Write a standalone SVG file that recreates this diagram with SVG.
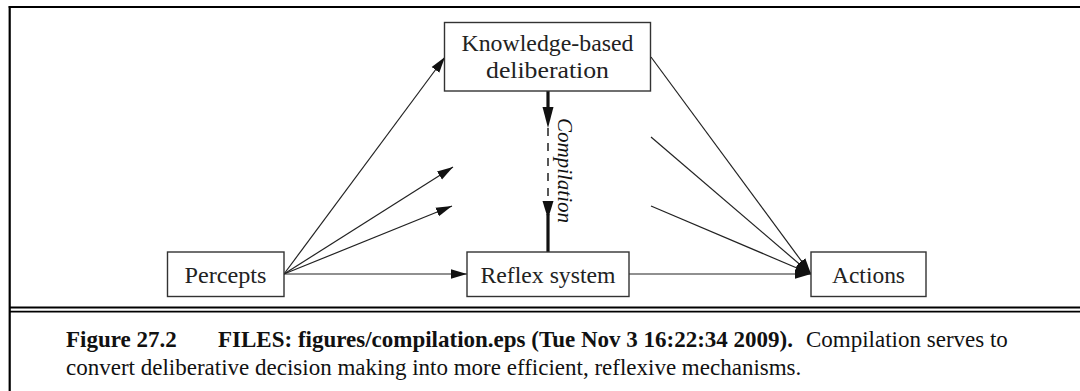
<svg xmlns="http://www.w3.org/2000/svg" width="1080" height="391" viewBox="0 0 1080 391">
<style>
.box{fill:#fff;stroke:#333;stroke-width:1.4}
.lbl{font-family:"Liberation Serif","Times New Roman",serif;font-size:24px;fill:#222;text-anchor:middle}
.ln{stroke:#222;stroke-width:1.2;fill:none}
.cap{font-family:"Liberation Serif","Times New Roman",serif;font-size:23px;fill:#111}
.b{font-weight:bold}
</style>
<defs>
<marker id="ah" markerUnits="userSpaceOnUse" markerWidth="18" markerHeight="12" refX="16" refY="6" orient="auto">
<path d="M0,1.3 L16,6 L0,10.7 Z" fill="#111"/>
</marker>
</defs>
<rect width="1080" height="391" fill="#fff"/>
<g id="frame" stroke="#000" fill="none">
<line x1="8.7" y1="7" x2="1080" y2="7" stroke-width="2.2"/>
<line x1="9.7" y1="6" x2="9.7" y2="391" stroke-width="2.2"/>
<line x1="9.7" y1="307.5" x2="1080" y2="307.5" stroke-width="1.8"/>
<line x1="9.7" y1="311.6" x2="1080" y2="311.6" stroke-width="1.8"/>
</g>
<g id="connectors">
<line class="ln" x1="284" y1="274" x2="445" y2="57" marker-end="url(#ah)"/>
<line class="ln" x1="284" y1="274" x2="453" y2="167" marker-end="url(#ah)"/>
<line class="ln" x1="284" y1="274" x2="452" y2="206" marker-end="url(#ah)"/>
<line class="ln" x1="284" y1="274" x2="467" y2="274" marker-end="url(#ah)"/>
<line class="ln" x1="651" y1="57" x2="811" y2="274" marker-end="url(#ah)"/>
<line class="ln" x1="651" y1="137" x2="811" y2="274" marker-end="url(#ah)"/>
<line class="ln" x1="651" y1="206" x2="811" y2="274" marker-end="url(#ah)"/>
<line class="ln" x1="629" y1="274" x2="811" y2="274" marker-end="url(#ah)"/>
<g id="compilation">
<line x1="548" y1="91" x2="548" y2="110" stroke="#111" stroke-width="3.2"/>
<path d="M542.5,107 L553.5,107 L548,128 Z" fill="#111"/>
<line x1="548" y1="128" x2="548" y2="204" stroke="#111" stroke-width="1.4" stroke-dasharray="8,7"/>
<path d="M542.5,201 L553.5,201 L548,219 Z" fill="#111"/>
<line x1="548" y1="214" x2="548" y2="252" stroke="#111" stroke-width="3.2"/>
<text class="cap" transform="translate(558,118) rotate(90)" style="font-style:italic;font-size:21px" textLength="105" lengthAdjust="spacingAndGlyphs">Compilation</text>
</g>
</g>
<g id="knowledge">
<rect class="box" x="444.5" y="22.5" width="206" height="68.5"/>
<text class="lbl" x="547.5" y="51" textLength="172" lengthAdjust="spacingAndGlyphs">Knowledge-based</text>
<text class="lbl" x="547.5" y="78" textLength="123" lengthAdjust="spacingAndGlyphs">deliberation</text>
</g>
<g id="percepts">
<rect class="box" x="167.5" y="252" width="116.5" height="44.5"/>
<text class="lbl" x="225.5" y="283" textLength="82" lengthAdjust="spacingAndGlyphs">Percepts</text>
</g>
<g id="reflex">
<rect class="box" x="467" y="252" width="162" height="44.5"/>
<text class="lbl" x="548" y="283" textLength="135" lengthAdjust="spacingAndGlyphs">Reflex system</text>
</g>
<g id="actions">
<rect class="box" x="811" y="252" width="115" height="44.5"/>
<text class="lbl" x="868.5" y="283" textLength="73" lengthAdjust="spacingAndGlyphs">Actions</text>
</g>
<g id="caption">
<text class="cap b" x="66" y="347">Figure 27.2</text>
<text class="cap b" x="218" y="347">FILES: figures/compilation.eps (Tue Nov 3 16:22:34 2009).</text>
<text class="cap" x="806" y="347">Compilation serves to</text>
<text class="cap" x="66" y="375">convert deliberative decision making into more efficient, reflexive mechanisms.</text>
</g>
</svg>
